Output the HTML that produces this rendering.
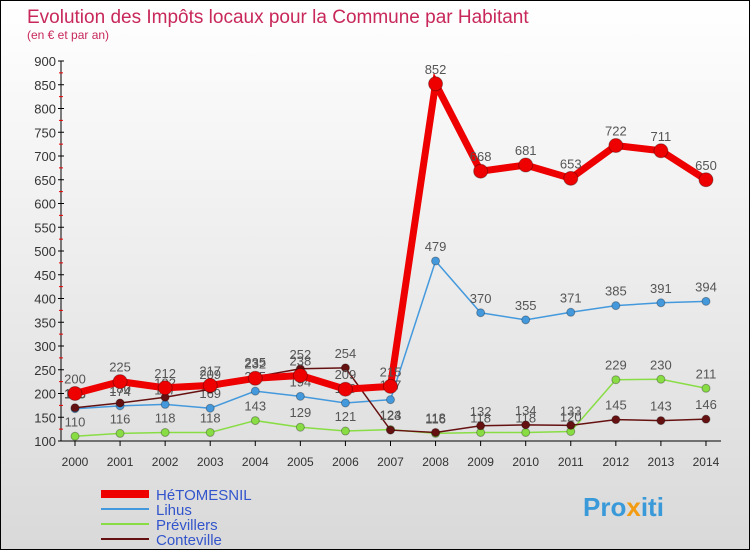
<!DOCTYPE html>
<html><head><meta charset="utf-8"><style>
body{margin:0;background:#fff}
#wrap{position:relative;width:748px;height:548px;border:1px solid #000;background:linear-gradient(#fff,#d9d9d9);overflow:hidden;font-family:"Liberation Sans",sans-serif}
</style></head><body>
<div id="wrap">
<svg id="chart" width="748" height="548">
<text x="26" y="22" font-size="19" fill="#c8285a">Evolution des Impôts locaux pour la Commune par Habitant</text>
<text x="26" y="38" font-size="12" fill="#c8285a">(en € et par an)</text>
<g id="axes"></g><g id="series"></g><g id="legend"></g>
<text x="582" y="515" font-size="26" font-weight="bold" fill="#3a9ad9">Pro<tspan fill="#f39c12">x</tspan>iti</text>
</svg></div>
<script>
const years=[2000,2001,2002,2003,2004,2005,2006,2007,2008,2009,2010,2011,2012,2013,2014];
const hetomesnil=[200,225,212,217,232,238,209,215,852,668,681,653,722,711,650];
const lihus=[168,174,177,169,205,194,180,187,479,370,355,371,385,391,394];
const previllers=[110,116,118,118,143,129,121,124,116,118,118,120,229,230,211];
const conteville=[170,180,192,209,235,252,254,123,118,132,134,133,145,143,146];
const yTicks=[100,150,200,250,300,350,400,450,500,550,600,650,700,750,800,850,900];
const NS="http://www.w3.org/2000/svg";
const X=i=>74+i*45.07, Y=v=>440-(v-100)*0.475;
function mk(t,a,p){const e=document.createElementNS(NS,t);for(const k in a)e.setAttribute(k,a[k]);p.appendChild(e);return e;}
const ax=document.getElementById('axes');
const yl=mk('line',{x1:60,y1:60,x2:60,y2:440,stroke:'#000'},ax);


const xl=mk('line',{x1:60,y1:440,x2:720,y2:440,stroke:'#000'},ax);


yTicks.forEach(v=>{mk('line',{x1:57,y1:Y(v),x2:63,y2:Y(v),stroke:'#000'},ax);
 if(v<900)mk('line',{x1:58,y1:Y(v+25),x2:62,y2:Y(v+25),stroke:'#e00'},ax);
 const t=mk('text',{x:55,y:Y(v)+5,'text-anchor':'end','font-size':13,fill:'#333'},ax);t.textContent=v;
 
 });
years.forEach((y,i)=>{mk('line',{x1:X(i),y1:440,x2:X(i),y2:445,stroke:'#000'},ax);
 const t=mk('text',{x:X(i),y:465,'text-anchor':'middle','font-size':12,fill:'#333'},ax);t.textContent=y;
 
 });
const sg=document.getElementById('series');
function series(d,col,w,r,name){
 const g=mk('g',{},sg);
 
 
 mk('polyline',{points:d.map((v,i)=>X(i)+','+Y(v)).join(' '),fill:'none',stroke:col,'stroke-width':w},g);
 d.forEach((v,i)=>{const c=mk('circle',{cx:X(i),cy:Y(v),r:r,fill:col,stroke:'rgba(0,0,0,0.3)'},g);
  
  
  const t=mk('text',{x:X(i),y:Y(v)-10,'text-anchor':'middle','font-size':13,fill:'#555'},g);t.textContent=v;
  
  });
}
series(previllers,'#88dd44',1.5,4,'previllers');
series(lihus,'#4499dd',1.5,4,'lihus');
series(conteville,'#661111',1.5,4,'conteville');
series(hetomesnil,'#ee0000',7,7,'hetomesnil');
const lg=document.getElementById('legend');
[['HéTOMESNIL','#ee0000',8],['Lihus','#4499dd',2],['Prévillers','#88dd44',2],['Conteville','#661111',2]].forEach((e,i)=>{
 const y=493+i*15;const g=mk('g',{},lg);
 
 
 mk('line',{x1:100,y1:y,x2:148,y2:y,stroke:e[1],'stroke-width':e[2]},g);
 const t=mk('text',{x:155,y:y+6,'font-size':15,fill:'#3355cc'},g);t.textContent=e[0];});
</script>
</body></html>
